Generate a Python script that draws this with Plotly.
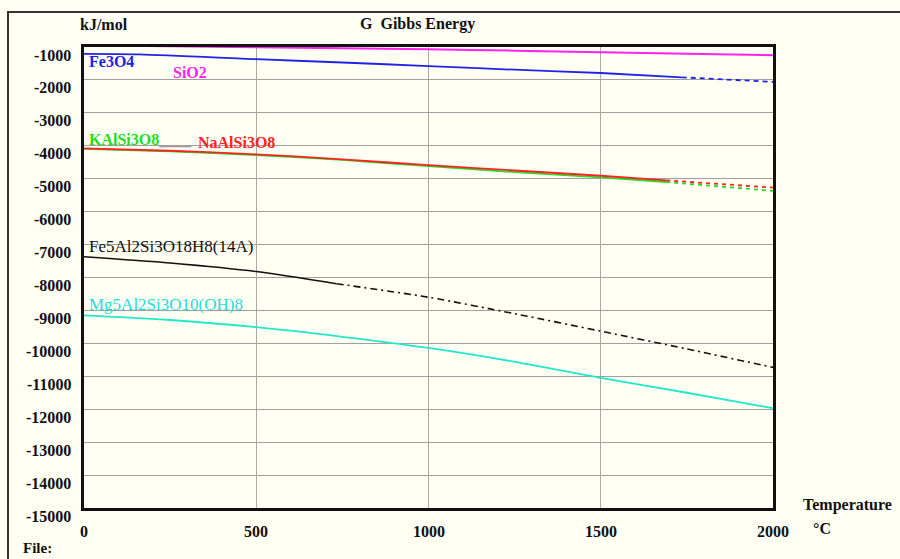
import plotly.graph_objects as go

# Temperature grid (°C) and Gibbs energy values (kJ/mol)
T_SIO2 = [0, 250, 500, 750, 1000, 1250, 1500, 1750, 2000]
G_SIO2 = [-955, -975, -1005, -1035, -1070, -1112, -1160, -1205, -1250]

T_FE3O4 = [0, 160, 500, 750, 1000, 1250, 1500, 1735]
G_FE3O4 = [-1210, -1225, -1370, -1470, -1580, -1690, -1790, -1920]
T_FE3O4_EXT = [1735, 2000]
G_FE3O4_EXT = [-1920, -2060]

T_NA = [0, 250, 500, 750, 1000, 1250, 1500, 1690]
G_NA = [-4080, -4150, -4260, -4410, -4590, -4750, -4910, -5050]
T_NA_EXT = [1690, 2000]
G_NA_EXT = [-5050, -5270]

T_K = [0, 250, 500, 750, 1000, 1250, 1500, 1690]
G_K = [-4095, -4170, -4280, -4430, -4620, -4800, -4960, -5100]
T_K_EXT = [1690, 2000]
G_K_EXT = [-5100, -5370]

T_CHL = [0, 250, 500, 733]
G_CHL = [-7370, -7560, -7820, -8190]
T_CHL_EXT = [733, 1000, 1250, 1500, 1750, 2000]
G_CHL_EXT = [-8190, -8600, -9100, -9630, -10170, -10730]

T_CLIN = [0, 250, 500, 750, 1000, 1250, 1500, 1750, 2000]
G_CLIN = [-9150, -9290, -9510, -9800, -10140, -10560, -11050, -11500, -11970]

Y_TICKS = [-1000, -2000, -3000, -4000, -5000, -6000, -7000, -8000,
           -9000, -10000, -11000, -12000, -13000, -14000, -15000]
X_TICKS = [0, 500, 1000, 1500, 2000]

BG = "#fffff4"
SERIF = "Liberation Serif, Times New Roman, serif"

# plot area in pixels
L, R, TOP, BOT = 84, 773, 47, 508
W, H = R - L, BOT - TOP


def px(x):
    return (x - L) / W


def py(y):
    return (BOT - y) / H


fig = go.Figure()


def add_line(xs, ys, color, dash="solid", width=1.8):
    fig.add_trace(go.Scatter(
        x=xs, y=ys, mode="lines",
        line=dict(color=color, width=width, dash=dash, shape="spline", smoothing=0.8),
        hoverinfo="skip", showlegend=False))


C_SIO2 = "#ff22ee"
C_FE = "#2222e6"
C_NA = "#ff2222"
C_K = "#22dd22"
C_CHL = "#111111"
C_CLIN = "#22e8c8"

add_line(T_SIO2, G_SIO2, C_SIO2, width=2)
add_line(T_FE3O4, G_FE3O4, C_FE)
add_line(T_FE3O4_EXT, G_FE3O4_EXT, C_FE, dash="5px,4px")
add_line(T_K, G_K, C_K)
add_line(T_K_EXT, G_K_EXT, C_K, dash="4px,4px")
add_line(T_NA, G_NA, C_NA)
add_line(T_NA_EXT, G_NA_EXT, C_NA, dash="4px,4px")
add_line(T_CHL, G_CHL, C_CHL, width=1.6)
add_line(T_CHL_EXT, G_CHL_EXT, C_CHL, dash="7px,4px,2px,4px", width=1.6)
add_line(T_CLIN, G_CLIN, C_CLIN)

ann = []

# y tick labels, set slightly below their grid lines
for v in Y_TICKS:
    ann.append(dict(x=px(73), xref="paper", y=v, yref="y", text=f"{v}",
                    xanchor="right", yanchor="middle", yshift=-8, showarrow=False,
                    font=dict(family=SERIF, size=16, color="#111", weight="bold")))
# x tick labels
for v in X_TICKS:
    ann.append(dict(x=v, xref="x", y=py(531), yref="paper", text=f"{v}",
                    xanchor="center", yanchor="middle", showarrow=False,
                    font=dict(family=SERIF, size=16, color="#111", weight="bold")))


def label(text, x, y, color, bold=True, size=16, anchor="left"):
    ann.append(dict(x=px(x), xref="paper", y=py(y), yref="paper", text=text,
                    xanchor=anchor, yanchor="middle", showarrow=False,
                    font=dict(family=SERIF, size=size, color=color,
                              weight="bold" if bold else "normal")))


label("kJ/mol", 78, 24, "#111")
label("G  Gibbs Energy", 417, 24, "#111", anchor="center")
label("Temperature", 801, 505, "#111")
label("°C", 811, 528, "#111")
label("File:", 21, 548, "#111", size=15)

label("Fe3O4", 87, 61, C_FE)
label("SiO2", 171, 72, C_SIO2)
label("KAlSi3O8<span style='color:#9a9a9a'>____</span>", 87, 139, C_K)
label("NaAlSi3O8", 196, 142, C_NA)
label("Fe5Al2Si3O18H8(14A)", 87, 246, C_CHL, bold=False, size=17)
label("Mg5Al2Si3O10(OH)8", 87, 304, "#22dcdc", bold=False, size=17)

shapes = [
    # outer frame
    dict(type="rect", xref="paper", yref="paper",
         x0=px(8), x1=px(910), y0=py(575), y1=py(12),
         line=dict(color="#333", width=2), fillcolor="rgba(0,0,0,0)", layer="below"),
]

fig.update_layout(
    width=900, height=559,
    margin=dict(l=L, r=900 - R, t=TOP, b=559 - BOT),
    paper_bgcolor=BG, plot_bgcolor=BG,
    annotations=ann, shapes=shapes,
    xaxis=dict(range=[0, 2000], tickvals=X_TICKS[1:-1], showticklabels=False,
               showgrid=True, gridcolor="#a8a8a8", gridwidth=1, zeroline=False,
               showline=True, linecolor="#111", linewidth=3, mirror=True, ticks=""),
    yaxis=dict(range=[-15000, -1000], tickvals=Y_TICKS[1:-1], showticklabels=False,
               showgrid=True, gridcolor="#a0a0a0", gridwidth=1, zeroline=False,
               showline=True, linecolor="#111", linewidth=3, mirror=True, ticks=""),
)

fig.write_html("out.html")
